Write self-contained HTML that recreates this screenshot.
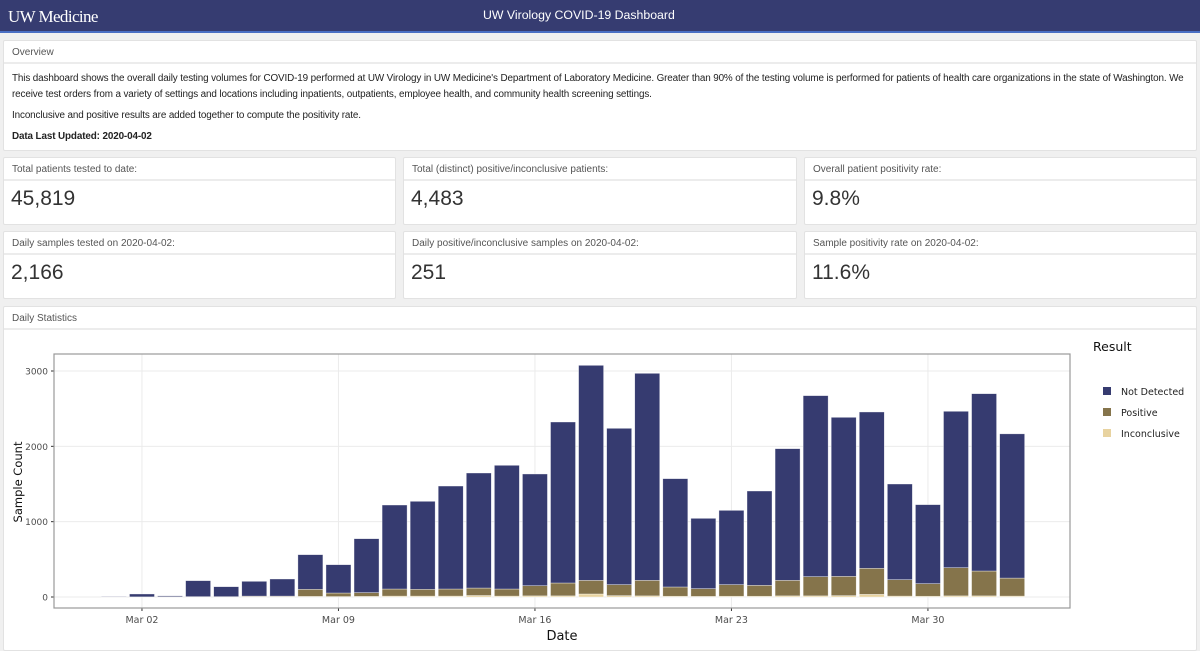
<!DOCTYPE html>
<html><head><meta charset="utf-8"><style>
*{box-sizing:border-box;margin:0;padding:0}
body{width:1200px;height:646px;overflow:hidden;background:#f0f0f0;font-family:"Liberation Sans",sans-serif;color:#222;position:relative}
.hdr{position:absolute;left:0;top:0;width:1200px;height:33px;background:#363c71;border-bottom:2px solid #4a6fc4}
.logo{position:absolute;left:8px;top:7px;font-family:"Liberation Serif",serif;font-size:17px;color:#fff;letter-spacing:-0.6px}
.ttl{position:absolute;left:483px;top:8px;font-size:12.3px;color:#fff}
.panel{position:absolute;background:#fff;border:1px solid #e2e2e2;border-radius:2px}
.ph{height:23px;border-bottom:2px solid #ececec;font-size:10px;color:#555;padding:6px 8px}
.pb{padding:7px 8px;font-size:9.9px;line-height:16px;color:#222;letter-spacing:-0.12px}
.val{font-size:21px;padding:6px 7px;color:#333}
</style></head><body>
<div class="hdr">
<div class="logo">UW Medicine</div>
<div class="ttl">UW Virology COVID-19 Dashboard</div>
</div>
<div class="panel" style="left:3px;top:40px;width:1194px;height:111px">
<div class="ph">Overview</div>
<div class="pb">This dashboard shows the overall daily testing volumes for COVID-19 performed at UW Virology in UW Medicine's Department of Laboratory Medicine. Greater than 90% of the testing volume is performed for patients of health care organizations in the state of Washington. We receive test orders from a variety of settings and locations including inpatients, outpatients, employee health, and community health screening settings.<div style="margin-top:5px">Inconclusive and positive results are added together to compute the positivity rate.</div><div style="margin-top:5px;font-weight:bold">Data Last Updated: 2020-04-02</div></div>
</div>
<div class="panel" style="left:3px;top:157px;width:393px;height:68px"><div class="ph">Total patients tested to date:</div><div class="val">45,819</div></div>
<div class="panel" style="left:403px;top:157px;width:394px;height:68px"><div class="ph">Total (distinct) positive/inconclusive patients:</div><div class="val">4,483</div></div>
<div class="panel" style="left:804px;top:157px;width:393px;height:68px"><div class="ph">Overall patient positivity rate:</div><div class="val">9.8%</div></div>
<div class="panel" style="left:3px;top:231px;width:393px;height:68px"><div class="ph">Daily samples tested on 2020-04-02:</div><div class="val">2,166</div></div>
<div class="panel" style="left:403px;top:231px;width:394px;height:68px"><div class="ph">Daily positive/inconclusive samples on 2020-04-02:</div><div class="val">251</div></div>
<div class="panel" style="left:804px;top:231px;width:393px;height:68px"><div class="ph">Sample positivity rate on 2020-04-02:</div><div class="val">11.6%</div></div>
<div class="panel" style="left:3px;top:306px;width:1194px;height:345px"><div class="ph">Daily Statistics</div></div>
<svg id="chart" style="position:absolute;left:0;top:0" width="1200" height="646"></svg>
<script>
const dates=["Mar 01","Mar 02","Mar 03","Mar 04","Mar 05","Mar 06","Mar 07","Mar 08","Mar 09","Mar 10","Mar 11","Mar 12","Mar 13","Mar 14","Mar 15","Mar 16","Mar 17","Mar 18","Mar 19","Mar 20","Mar 21","Mar 22","Mar 23","Mar 24","Mar 25","Mar 26","Mar 27","Mar 28","Mar 29","Mar 30","Mar 31","Apr 01","Apr 02"];
const totals=[5,40,15,217,137,208,239,562,429,774,1221,1270,1473,1646,1748,1633,2323,3075,2239,2969,1571,1044,1150,1407,1969,2673,2385,2456,1500,1226,2465,2699,2166];
const posIncTotals=[0,2,3,5,5,12,12,102,53,58,106,102,106,119,106,150,186,221,164,221,133,111,164,155,221,270,274,381,230,177,389,345,251];
const inconclusive=[0,0,0,1,1,3,3,8,6,8,12,12,12,20,12,15,15,40,18,15,10,8,10,10,15,15,18,35,12,10,15,15,12];
const yTicks=[0,1000,2000,3000];
const xTickLabels=["Mar 02","Mar 09","Mar 16","Mar 23","Mar 30"];
const xTickIdx=[1,8,15,22,29];
const NS="http://www.w3.org/2000/svg",svg=document.getElementById('chart');
const L=54,R=1070,T=354,B=608;
const y=v=>597-v*(226/3000);
const x=i=>113.9+i*28.07;
function mk(t,a,p){const e=document.createElementNS(NS,t);for(const k in a)e.setAttribute(k,a[k]);(p||svg).appendChild(e);return e;}
mk('rect',{x:L,y:T,width:R-L,height:B-T,fill:'#fff'});
yTicks.forEach(v=>{mk('line',{x1:L,x2:R,y1:y(v),y2:y(v),stroke:'#ebebeb','stroke-width':1});
const t=mk('text',{x:L-6,y:y(v)+3.5,'text-anchor':'end','font-size':9,fill:'#4d4d4d','font-family':'DejaVu Sans, sans-serif'});t.textContent=v;


mk('line',{x1:L-3,x2:L,y1:y(v),y2:y(v),stroke:'#333'});});
xTickIdx.forEach((ix,k)=>{mk('line',{x1:x(ix),x2:x(ix),y1:T,y2:B,stroke:'#ebebeb'});
mk('line',{x1:x(ix),x2:x(ix),y1:B,y2:B+3,stroke:'#333'});
const t=mk('text',{x:x(ix),y:B+15,'text-anchor':'middle','font-size':9.5,fill:'#4d4d4d','font-family':'DejaVu Sans, sans-serif'});t.textContent=xTickLabels[k];

});
const bw=25;
dates.forEach((d,i)=>{
const inc=inconclusive[i],pos=posIncTotals[i]-inc,tot=totals[i];
const segs=[[0,inc,'#e8d3a0','bar-inconclusive'],[inc,inc+pos,'#85744b','bar-positive'],[inc+pos,tot,'#363b70','bar-not-detected']];
segs.forEach(s=>{if(s[1]<=s[0])return;
const r=mk('rect',{x:x(i)-bw/2,y:y(s[1]),width:bw,height:y(s[0])-y(s[1]),fill:s[2],stroke:'#fff','stroke-opacity':0.6,'stroke-width':0.6});

});});
mk('rect',{x:L,y:T,width:R-L,height:B-T,fill:'none',stroke:'#999','stroke-width':1.2});
let t=mk('text',{x:562,y:640,'text-anchor':'middle','font-size':13,fill:'#111','font-family':'DejaVu Sans, sans-serif'});t.textContent='Date';


t=mk('text',{x:0,y:0,'text-anchor':'middle','font-size':11.5,fill:'#111','font-family':'DejaVu Sans, sans-serif',transform:'translate(22,482) rotate(-90)'});t.textContent='Sample Count';


t=mk('text',{x:1093,y:351,'font-size':12.5,fill:'#111','font-family':'DejaVu Sans, sans-serif'});t.textContent='Result';


const legN=['Not Detected','Positive','Inconclusive'],legC=['#363b70','#85744b','#e8d3a0'];
legN.forEach((n,k)=>{const g=mk('g',{});


mk('rect',{x:1103,y:387+k*21,width:8,height:8,fill:legC[k]},g);
const tt=mk('text',{x:1121,y:395+k*21,'font-size':9.5,fill:'#222','font-family':'DejaVu Sans, sans-serif'},g);tt.textContent=n;});
</script>
</body></html>
